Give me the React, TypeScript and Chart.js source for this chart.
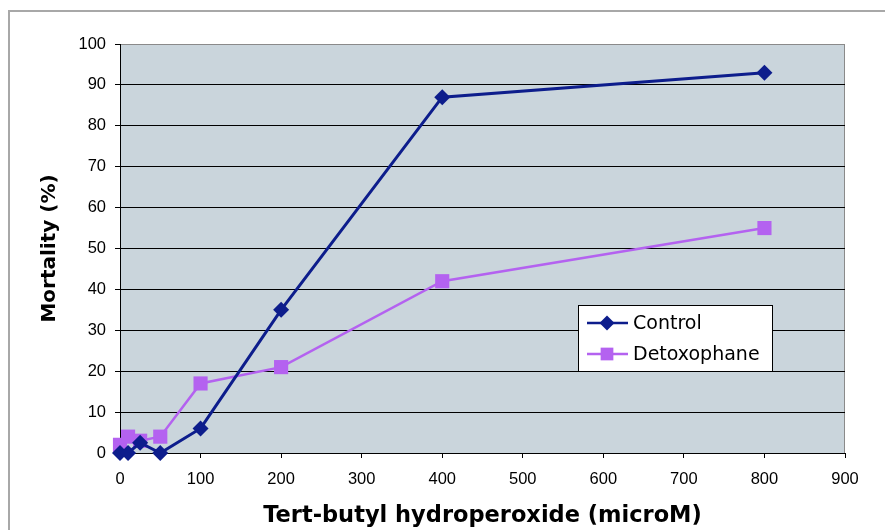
import React, { useEffect, useRef } from "react";
import { Chart, registerables } from "chart.js";

Chart.register(...registerables);

const concentrations = [0, 10, 25, 50, 100, 200, 400, 800];
const controlValues = [0, 0, 2.5, 0, 6, 35, 87, 93];
const detoxValues = [2, 4, 3, 4, 17, 21, 42, 55];
const seriesNames = ["Control", "Detoxophane"];
const xTitle = "Tert-butyl hydroperoxide (microM)";
const yTitle = "Mortality (%)";

const CONTROL_COLOR = "#0d1d8c";
const DETOX_COLOR = "#b462f0";
const PLOT_BG = "#cad5dc";
const TICK_FONT = "'Liberation Sans', Arial, sans-serif";
const TITLE_FONT = "'DejaVu Sans', Verdana, sans-serif";

const framePlugin = {
  id: "frame",
  beforeDraw(chart: any) {
    const { ctx, chartArea, width, height } = chart;
    ctx.save();
    ctx.fillStyle = "#ffffff";
    ctx.fillRect(0, 0, width, height);
    ctx.strokeStyle = "#a8a8a8";
    ctx.lineWidth = 2;
    ctx.strokeRect(9, 11, width + 20, height + 20);
    ctx.fillStyle = PLOT_BG;
    ctx.fillRect(chartArea.left, chartArea.top, chartArea.right - chartArea.left, chartArea.bottom - chartArea.top);
    ctx.strokeStyle = "#8a8a8a";
    ctx.lineWidth = 1;
    ctx.beginPath();
    ctx.moveTo(chartArea.left, chartArea.top + 0.5);
    ctx.lineTo(chartArea.right - 0.5, chartArea.top + 0.5);
    ctx.lineTo(chartArea.right - 0.5, chartArea.bottom);
    ctx.stroke();
    ctx.restore();
  },
};

const legendPlugin = {
  id: "boxLegend",
  afterDraw(chart: any) {
    const { ctx } = chart;
    const x = 578.5, y = 305.5, w = 194, h = 66;
    ctx.save();
    ctx.fillStyle = "#ffffff";
    ctx.fillRect(x, y, w, h);
    ctx.strokeStyle = "#000000";
    ctx.lineWidth = 1;
    ctx.strokeRect(x, y, w, h);
    const rows = [
      { name: seriesNames[0], color: CONTROL_COLOR, style: "rectRot", r: 7.5, cy: 323 },
      { name: seriesNames[1], color: DETOX_COLOR, style: "rect", r: 9, cy: 354 },
    ];
    rows.forEach((row) => {
      ctx.strokeStyle = row.color;
      ctx.lineWidth = 2.5;
      ctx.beginPath();
      ctx.moveTo(587, row.cy);
      ctx.lineTo(628, row.cy);
      ctx.stroke();
      ctx.fillStyle = row.color;
      ctx.beginPath();
      if (row.style === "rectRot") {
        ctx.moveTo(607, row.cy - row.r);
        ctx.lineTo(607 + row.r, row.cy);
        ctx.lineTo(607, row.cy + row.r);
        ctx.lineTo(607 - row.r, row.cy);
        ctx.closePath();
      } else {
        const s = row.r * Math.SQRT1_2;
        ctx.rect(607 - s, row.cy - s, 2 * s, 2 * s);
      }
      ctx.fill();
      ctx.fillStyle = "#000000";
      ctx.font = `19px ${TITLE_FONT}`;
      ctx.textBaseline = "middle";
      ctx.textAlign = "left";
      ctx.fillText(row.name, 633, row.cy + 1);
    });
    ctx.restore();
  },
};

export default function App() {
  const canvasRef = useRef<HTMLCanvasElement | null>(null);

  useEffect(() => {
    const canvas = canvasRef.current;
    if (!canvas) return;
    const chart = new Chart(canvas, {
      type: "line",
      data: {
        datasets: [
          {
            label: seriesNames[0],
            data: concentrations.map((c, i) => ({ x: c, y: controlValues[i] })),
            borderColor: CONTROL_COLOR,
            backgroundColor: CONTROL_COLOR,
            borderWidth: 3,
            pointStyle: "rectRot",
            pointRadius: 8,
            pointBorderWidth: 0,
            tension: 0,
            clip: false as any,
            order: 1,
          },
          {
            label: seriesNames[1],
            data: concentrations.map((c, i) => ({ x: c, y: detoxValues[i] })),
            borderColor: DETOX_COLOR,
            backgroundColor: DETOX_COLOR,
            borderWidth: 2.5,
            pointStyle: "rect",
            pointRadius: 10,
            pointBorderWidth: 0,
            tension: 0,
            clip: false as any,
            order: 2,
          },
        ],
      },
      options: {
        responsive: false,
        animation: false,
        layout: { padding: { top: 44, right: 40, bottom: 0, left: 0 } },
        plugins: {
          legend: { display: false },
          tooltip: { enabled: false },
          title: { display: false },
        },
        scales: {
          x: {
            type: "linear",
            min: 0,
            max: 900,
            afterFit: (s: any) => {
              s.height = 77;
            },
            ticks: {
              stepSize: 100,
              color: "#000",
              padding: 12,
              font: { family: TICK_FONT, size: 16.5 },
              maxRotation: 0,
            },
            grid: {
              display: true,
              drawOnChartArea: false,
              drawTicks: true,
              tickLength: 5,
              tickColor: "#000",
              color: "#000",
            },
            border: { display: true, color: "#000", width: 1 },
            title: {
              display: true,
              text: xTitle,
              color: "#000",
              font: { family: TITLE_FONT, size: 22.5, weight: "bold" },
              padding: { top: 0, bottom: 0 },
            },
          },
          y: {
            min: 0,
            max: 100,
            afterFit: (s: any) => {
              s.width = 120;
            },
            ticks: {
              stepSize: 10,
              color: "#000",
              padding: 9,
              font: { family: TICK_FONT, size: 16.5 },
            },
            grid: {
              color: (c: any) => (c.tick && c.tick.value === 100 ? "#8a8a8a" : "#000"),
              drawTicks: true,
              tickLength: 5,
              tickColor: "#000",
              lineWidth: 1,
            },
            border: { display: true, color: "#000", width: 1 },
            title: {
              display: true,
              text: yTitle,
              color: "#000",
              font: { family: TITLE_FONT, size: 20, weight: "bold" },
              padding: { top: 38, bottom: 0 },
            },
          },
        },
      },
      plugins: [framePlugin, legendPlugin],
    });
    return () => chart.destroy();
  }, []);

  return (
    <div style={{ position: "fixed", left: 0, top: 0, width: 885, height: 530, overflow: "hidden", background: "#fff" }}>
      <canvas ref={canvasRef} width={885} height={530} style={{ display: "block" }} />
    </div>
  );
}
